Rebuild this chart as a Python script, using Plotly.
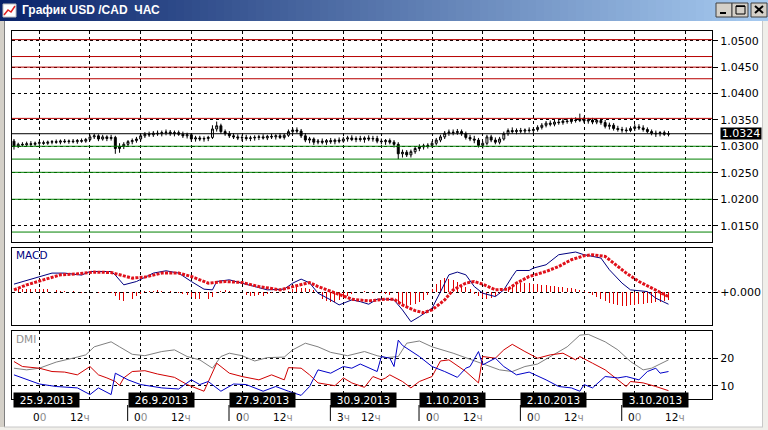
import plotly.graph_objects as go

W, H = 768, 430

# ---------------- data ----------------
# hourly bars, index 0 = 25.9.2013 00h (weekend gap removed)
bar_index = list(range(-6, 150))

# prices in pips above 1.0000
open_pips = [
    310, 300, 304, 303, 305, 304, 306, 307, 306, 308, 309, 308,
    310, 309, 310, 309, 311, 310, 313, 318, 320, 314, 318, 315,
    317, 296, 300, 304, 309, 311, 314, 320, 323, 322, 325, 324,
    326, 327, 324, 326, 323, 320, 322, 314, 316, 314, 315, 317,
    333, 339, 328, 324, 320, 318, 316, 317, 315, 316, 317, 318,
    316, 319, 318, 320, 317, 321, 328, 331, 329, 320, 312, 314,
    308, 310, 308, 311, 309, 312, 310, 314, 316, 313, 315, 313,
    316, 314, 315, 310, 309, 311, 308, 304, 286, 289, 284, 290,
    296, 299, 301, 302, 306, 312, 318, 325, 327, 326, 328, 324,
    317, 314, 312, 302, 306, 318, 312, 308, 314, 324, 330, 328,
    330, 329, 331, 330, 332, 336, 340, 344, 342, 346, 345, 348,
    347, 350, 349, 352, 348, 350, 346, 349, 345, 338, 340, 334,
    332, 331, 330, 334, 337, 335, 332, 328, 325, 324, 326, 323,
]
high_pips = [
    314, 307, 308, 309, 310, 309, 311, 311, 311, 312, 313, 313,
    314, 313, 314, 314, 315, 316, 322, 324, 323, 322, 321, 322,
    320, 306, 308, 312, 315, 318, 324, 327, 328, 329, 330, 330,
    332, 331, 330, 330, 328, 326, 325, 320, 320, 319, 320, 340,
    347, 343, 332, 329, 325, 323, 321, 322, 320, 321, 322, 323,
    322, 324, 323, 325, 324, 332, 335, 336, 333, 325, 318, 317,
    314, 315, 314, 316, 315, 317, 318, 320, 321, 319, 320, 319,
    321, 320, 320, 315, 314, 315, 312, 308, 294, 293, 294, 300,
    304, 305, 306, 310, 316, 322, 329, 332, 332, 333, 332, 328,
    322, 320, 316, 310, 322, 322, 317, 318, 328, 334, 336, 334,
    335, 334, 336, 336, 340, 344, 348, 349, 350, 351, 352, 353,
    354, 355, 362, 356, 354, 354, 353, 353, 350, 345, 344, 339,
    337, 336, 338, 342, 342, 340, 336, 332, 330, 329, 330, 329,
]
low_pips = [
    294, 297, 300, 299, 300, 301, 302, 303, 303, 304, 305, 304,
    306, 305, 306, 305, 307, 307, 310, 314, 310, 311, 310, 311,
    286, 288, 295, 300, 304, 307, 310, 316, 318, 318, 320, 319,
    321, 320, 319, 320, 316, 315, 309, 309, 310, 309, 310, 314,
    328, 324, 320, 316, 314, 312, 310, 311, 310, 311, 312, 313,
    312, 314, 313, 314, 313, 318, 323, 325, 316, 308, 306, 303,
    304, 304, 303, 305, 304, 306, 307, 309, 310, 308, 309, 307,
    310, 309, 306, 304, 303, 304, 298, 276, 279, 280, 279, 286,
    291, 294, 296, 298, 302, 308, 314, 320, 321, 322, 320, 313,
    310, 306, 298, 296, 302, 308, 304, 304, 311, 320, 324, 323,
    325, 324, 326, 325, 328, 332, 336, 338, 338, 341, 341, 343,
    343, 345, 346, 344, 343, 342, 342, 341, 334, 332, 330, 328,
    326, 326, 327, 329, 331, 328, 325, 321, 318, 319, 320, 319,
]
close_pips = [
    300, 304, 303, 305, 304, 306, 307, 306, 308, 309, 308, 310,
    309, 310, 309, 311, 310, 313, 318, 320, 314, 318, 315, 317,
    296, 300, 304, 309, 311, 314, 320, 323, 322, 325, 324, 326,
    327, 324, 326, 323, 320, 322, 314, 316, 314, 315, 317, 333,
    339, 328, 324, 320, 318, 316, 317, 315, 316, 317, 318, 316,
    319, 318, 320, 317, 321, 328, 331, 329, 320, 312, 314, 308,
    310, 308, 311, 309, 312, 310, 314, 316, 313, 315, 313, 316,
    314, 315, 310, 309, 311, 308, 304, 286, 289, 284, 290, 296,
    299, 301, 302, 306, 312, 318, 325, 327, 326, 328, 324, 317,
    314, 312, 302, 306, 318, 312, 308, 314, 324, 330, 328, 330,
    329, 331, 330, 332, 336, 340, 344, 342, 346, 345, 348, 347,
    350, 349, 352, 348, 350, 346, 349, 345, 338, 340, 334, 332,
    331, 330, 334, 337, 335, 332, 328, 325, 324, 326, 323, 324,
]

resistance_levels = [1.0502, 1.0470, 1.0450, 1.0428, 1.0353]
support_levels = [1.03003, 1.0276, 1.0251, 1.0200, 1.0138]
last_price = 1.0324
price_ticks = [1.0150, 1.0200, 1.0250, 1.0300, 1.0350, 1.0400, 1.0450, 1.0500]

# MACD (units of 0.00001)
macd_x = [-6, -3, -1, 3, 6, 10, 12, 17, 18, 20, 23, 25, 27, 30, 33, 36, 39, 41, 42, 45,
          48, 51, 54, 58, 60, 62, 64, 66, 69, 71, 74, 76, 78, 80, 82, 84, 86, 88, 90, 93,
          95, 97, 99, 101, 103, 105, 108, 110, 112, 113, 116, 117, 120, 123, 127, 129,
          133, 135, 138, 140, 144, 146, 149]
macd_v = [8, 11.6, 14, 19, 19, 17, 20.6, 20.6, 17, 7.3, 10.6, 14.6, 19, 21.3, 19, 10.6, 3, 2.3, 10.6, 12.3,
          9.3, 5.6, 2.3, 3, 9, 13, 9.3, -1, -7.7, -12.7, -7.7, -9.4, -12, -7, -7, -7.7, -17.7, -29.4, -24.4, -16,
          0.3, 17.3, 20, 17.3, 5.6, -1, -4.4, 2.3, 15.6, 21.6, 21.6, 24, 27.3, 37.3, 40, 37.3,
          34, 22.3, 9, 2.3, 0.6, -6, -12]
signal_x = [-6, -3, 1, 5, 9, 13, 17, 19, 22, 25, 29, 33, 36, 40, 44, 48, 52, 57, 60, 64,
            66, 70, 74, 78, 82, 84, 86, 89, 91, 93, 96, 98, 101, 103, 105, 108, 111, 113,
            116, 120, 123, 126, 129, 131, 134, 136, 139, 142, 145, 149]
signal_v = [2.3, 7.3, 12.3, 17.3, 18.3, 20, 19.6, 17.3, 14, 15, 19, 19, 15.6, 9, 10.6, 9.6, 5.6, 2.3, 5.6, 9.6,
            5.6, -1, -7, -8.7, -7, -7, -12.7, -18.4, -20.4, -17.7, -7.7, 2.3, 9, 10.6, 8, 2.3, 3, 9,
            15.6, 20.6, 25.6, 32.3, 36.3, 37.3, 35.6, 29, 19, 10.6, 4, -4.4]
osma_v = [
    3, 3, 3, 3, 3, 3, 3, 3, 3, 3, 2,
    1, 1, 0, 1, 0, -1, 0, 1, 0, -1, 0, 0, -1,
    -4, -8, -9, -8, -7, -4, -2,
    1, 1, 1, 2, 1, 0, 1, 0, -1, -2, -3,
    -5, -7, -7, -6, -7, -5, -1,
    1, 2, 1, 0, 0, -1,
    -3, -4, -4, -3, -4, -2,
    -1, 0, -1, 0, 1,
    3, 5, 4, 4, 3, 2,
    -4, -7, -9, -10, -10, -8, -6, -4,
    -2, -1, 0, 1, 0, -1, 0,
    -1, -2, -3,
    -6, -10, -13, -14, -13, -12, -10, -8,
    -3, 3, 8, 12, 14, 13, 12, 10, 7, 5,
    3, -2, -4,
    -6, -7, -6, -4,
    -2, 0, 3,
    6, 8, 9, 9, 9, 8, 8, 7, 7, 6, 6, 5, 5, 4, 4, 3, 2,
    1, -1, -3,
    -5, -7, -9, -11, -12, -13, -14, -14, -13, -13, -12, -12, -11, -11, -10, -10, -9, -8,
]

# DMI
adx_x = [-6, -3, 0, 4, 9, 11, 13, 17, 19, 22, 25, 29, 32, 35, 38, 41, 43, 45, 48, 51, 54, 58,
         60, 63, 66, 69, 73, 77, 80, 82, 85, 87, 90, 93, 98, 101, 105, 109, 112, 115, 118,
         121, 125, 128, 130, 134, 137, 140, 143, 145, 149]
adx_v = [16.4, 15.8, 16.4, 18.6, 20.4, 21.2, 24.1, 25.9, 24.1, 21.4, 20.9, 22.4, 23, 20.6, 19.4, 16.4,
         20.6, 21.8, 20.9, 19, 20.2, 20.4, 23, 25.4, 24.1, 22.1, 20.9, 22.4, 20.9, 20.2, 20.6, 25.4,
         26.2, 24.1, 21.8, 20.2, 18.2, 15.8, 15.2, 17, 17.9, 20.6, 24.1, 28.3, 28.6, 25.9, 23, 18.8,
         15.8, 16.4, 19.4]
pdi_x = [-6, -4, 0, 3, 6, 9, 12, 14, 16, 18, 19, 20, 22, 25, 28, 32, 35, 39, 42, 45, 48, 52,
         55, 58, 59, 62, 64, 66, 70, 72, 74, 77, 79, 81, 82, 83, 86, 88, 90, 93, 95, 97, 101,
         104, 105, 108, 110, 112, 115, 118, 121, 124, 127, 128, 131, 134, 137, 139, 140, 143,
         146, 149]
pdi_v = [18.8, 17, 16.4, 15.2, 15, 14, 17, 14, 12.9, 11.6, 10.2, 12.9, 15.2, 15.5, 14.3, 13.1, 10.5,
         8.1, 18.2, 14.6, 13.4, 12.2, 14, 12.2, 16.6, 16.4, 14, 11.1, 10.1, 12.9, 11.1, 9.5, 13.4,
         12.2, 12.9, 14, 11.6, 9.3, 11.6, 13.4, 19, 19.4, 15.2, 11.1, 20.6, 20, 23, 25, 22.4, 20,
         21.2, 21.8, 19.4, 20.6, 18.2, 15.8, 12.2, 9.8, 11.6, 11.1, 9.8, 8.3]
mdi_x = [-6, -4, 0, 4, 9, 12, 14, 17, 18, 21, 24, 29, 33, 36, 38, 40, 43, 46, 49, 53, 56, 59,
         62, 64, 66, 69, 72, 74, 76, 80, 81, 83, 84, 85, 86, 90, 93, 96, 99, 101, 102, 104,
         105, 108, 110, 113, 116, 120, 123, 126, 128, 129, 131, 134, 137, 139, 142, 144, 146,
         147, 149]
mdi_v = [14, 12.9, 10.7, 9.8, 9.3, 6.9, 9.3, 6.9, 14.6, 12.2, 10.5, 9.3, 8.9, 12.2, 10.5, 11.6, 8.1,
         10.7, 10.5, 8.1, 9.8, 8.1, 6.6, 9.8, 15.8, 14.6, 17, 16.4, 17.9, 15.2, 20.6, 20, 17, 26.5,
         24.6, 20.6, 17, 15.2, 13.1, 16.4, 17, 22.4, 17.6, 20, 17, 14, 15, 12.2, 9.8, 9.3, 8.1,
         10.5, 9.3, 13.4, 12.9, 13.4, 12.2, 15.2, 16.4, 14.6, 15.2]

# time axis labels
grid_hours = [0, 12, 24, 36, 48, 60, 72, 81, 93, 105, 117, 129, 141, 153]
hour_labels = ["00", "12ч", "00", "12ч", "00", "12ч", "3ч", "12ч", "00", "12ч", "00", "12ч", "00", "12ч"]
day_starts = [0, 24, 48, 72, 93, 117, 141]
date_labels = ["25.9.2013", "26.9.2013", "27.9.2013", "30.9.2013", "1.10.2013", "2.10.2013", "3.10.2013"]

# ---------------- figure ----------------
X_RANGE = [-6.47, 159.3]
XDOM = [12 / W, 712 / W]


def py(p):
    return 1 - p / H


def px(p):
    return p / W


def to_price(v):
    return [1 + p / 10000 for p in v]


FONT = "DejaVu Sans"
fig = go.Figure()

# support / resistance / last price lines
for lv in resistance_levels:
    fig.add_trace(go.Scatter(x=X_RANGE, y=[lv, lv], mode="lines", line=dict(color="#B80000", width=1),
                             xaxis="x", yaxis="y", showlegend=False, hoverinfo="skip"))
for lv in support_levels:
    fig.add_trace(go.Scatter(x=X_RANGE, y=[lv, lv], mode="lines", line=dict(color="#008000", width=1),
                             xaxis="x", yaxis="y", showlegend=False, hoverinfo="skip"))
fig.add_trace(go.Scatter(x=X_RANGE, y=[last_price, last_price], mode="lines",
                         line=dict(color="black", width=1),
                         xaxis="x", yaxis="y", showlegend=False, hoverinfo="skip"))

fig.add_trace(go.Candlestick(
    x=bar_index, open=to_price(open_pips), high=to_price(high_pips),
    low=to_price(low_pips), close=to_price(close_pips),
    increasing=dict(line=dict(color="black", width=1), fillcolor="white"),
    decreasing=dict(line=dict(color="black", width=1), fillcolor="black"),
    whiskerwidth=0, xaxis="x", yaxis="y", hoverinfo="skip", showlegend=False))

fig.add_trace(go.Bar(x=bar_index, y=osma_v, width=0.22, marker=dict(color="#E00000", line=dict(width=0)),
                     xaxis="x2", yaxis="y2", showlegend=False, hoverinfo="skip"))
fig.add_trace(go.Scatter(x=macd_x, y=macd_v, mode="lines", line=dict(color="#000080", width=1),
                         xaxis="x2", yaxis="y2", showlegend=False, hoverinfo="skip"))
fig.add_trace(go.Scatter(x=signal_x, y=signal_v, mode="lines",
                         line=dict(color="#E0101A", width=3, dash="3px,1.3px"),
                         xaxis="x2", yaxis="y2", showlegend=False, hoverinfo="skip"))

fig.add_trace(go.Scatter(x=adx_x, y=adx_v, mode="lines", line=dict(color="#808080", width=1),
                         xaxis="x3", yaxis="y3", showlegend=False, hoverinfo="skip"))
fig.add_trace(go.Scatter(x=pdi_x, y=pdi_v, mode="lines", line=dict(color="#D00000", width=1),
                         xaxis="x3", yaxis="y3", showlegend=False, hoverinfo="skip"))
fig.add_trace(go.Scatter(x=mdi_x, y=mdi_v, mode="lines", line=dict(color="#0000C8", width=1),
                         xaxis="x3", yaxis="y3", showlegend=False, hoverinfo="skip"))

GRID = dict(showgrid=True, gridcolor="black", griddash="3px,3px", gridwidth=1)
xcommon = dict(range=X_RANGE, domain=XDOM, tickmode="array", tickvals=grid_hours,
               showticklabels=False, ticks="", showline=True, mirror=True, linecolor="black",
               linewidth=1, zeroline=False, fixedrange=True, automargin=False, **GRID)
ycommon = dict(side="right", showline=True, mirror=True, linecolor="black", linewidth=1,
               ticks="outside", ticklen=5, tickcolor="black", tickwidth=1,
               tickfont=dict(family=FONT, size=11, color="black"), zeroline=False,
               fixedrange=True, automargin=False, tickmode="array", **GRID)

fig.update_layout(
    template="none", width=W, height=H, autosize=False,
    margin=dict(l=0, r=0, t=0, b=0, pad=0),
    paper_bgcolor="white", plot_bgcolor="white", showlegend=False,
    font=dict(family=FONT, size=11, color="black"),
    xaxis=dict(anchor="y", rangeslider=dict(visible=False), **xcommon),
    xaxis2=dict(anchor="y2", matches="x", **xcommon),
    xaxis3=dict(anchor="y3", matches="x", **xcommon),
    yaxis=dict(anchor="x", domain=[py(242), py(31)], range=[1.01192, 1.05183],
               tickvals=price_ticks, ticktext=[f"{v:.4f}" for v in price_ticks], **ycommon),
    yaxis2=dict(anchor="x2", domain=[py(325), py(248)], range=[-32.7, 44],
                tickvals=[0], ticktext=["+0.000"], **ycommon),
    yaxis3=dict(anchor="x3", domain=[py(399), py(331)], range=[5.3, 29.8],
                tickvals=[10, 20], ticktext=["10", "20"], **ycommon),
    bargap=0, boxgap=0.35,
)

shapes = []
# title bar gradient
c0, c1 = (10, 36, 106), (166, 202, 240)
n = 96
for i in range(n):
    t = i / (n - 1)
    col = "rgb(%d,%d,%d)" % tuple(round(a + (b - a) * t) for a, b in zip(c0, c1))
    shapes.append(dict(type="rect", xref="paper", yref="paper", x0=px(i * W / n), x1=px((i + 1) * W / n + 0.5),
                       y0=py(21), y1=1, fillcolor=col, line=dict(width=0), layer="above"))
# window frame
shapes += [
    dict(type="rect", xref="paper", yref="paper", x0=0, x1=px(4), y0=0, y1=py(21),
         fillcolor="#D4D0C8", line=dict(width=0), layer="above"),
    dict(type="line", xref="paper", yref="paper", x0=px(4.5), x1=px(4.5), y0=py(427), y1=py(21),
         line=dict(color="#808080", width=1), layer="above"),
    dict(type="rect", xref="paper", yref="paper", x0=px(763), x1=1, y0=0, y1=py(21),
         fillcolor="#F0EFEA", line=dict(width=0), layer="above"),
    dict(type="line", xref="paper", yref="paper", x0=px(762.5), x1=px(762.5), y0=py(427), y1=py(21),
         line=dict(color="#C8C8C8", width=1), layer="above"),
    dict(type="rect", xref="paper", yref="paper", x0=0, x1=1, y0=0, y1=py(427),
         fillcolor="#F0EFEA", line=dict(width=0), layer="above"),
    dict(type="line", xref="paper", yref="paper", x0=px(4), x1=px(763), y0=py(427), y1=py(427),
         line=dict(color="#C8C8C8", width=1), layer="above"),
]
# title icon
shapes += [
    dict(type="rect", xref="paper", yref="paper", x0=px(3), x1=px(16), y0=py(17), y1=py(4),
         fillcolor="white", line=dict(color="#C0C0C0", width=1), layer="above"),
    dict(type="path", xref="paper", yref="paper",
         path="M %f %f L %f %f L %f %f L %f %f" % (px(4), py(15), px(8), py(10), px(11), py(12), px(15), py(6)),
         line=dict(color="#E02020", width=1.5), layer="above"),
]
# title buttons
for bx0, bx1 in [(716, 732), (732, 748), (751, 767)]:
    shapes.append(dict(type="rect", xref="paper", yref="paper", x0=px(bx0), x1=px(bx1), y0=py(17), y1=py(3),
                       fillcolor="#D4D0C8", line=dict(color="#404040", width=1), layer="above"))
shapes += [
    dict(type="rect", xref="paper", yref="paper", x0=px(720), x1=px(726), y0=py(14), y1=py(12),
         fillcolor="black", line=dict(width=0), layer="above"),
    dict(type="rect", xref="paper", yref="paper", x0=px(736), x1=px(745), y0=py(14), y1=py(6),
         fillcolor="rgba(0,0,0,0)", line=dict(color="black", width=1), layer="above"),
    dict(type="rect", xref="paper", yref="paper", x0=px(736), x1=px(745), y0=py(7), y1=py(5.5),
         fillcolor="black", line=dict(width=0), layer="above"),
    dict(type="line", xref="paper", yref="paper", x0=px(755), x1=px(763), y0=py(6), y1=py(13),
         line=dict(color="black", width=2), layer="above"),
    dict(type="line", xref="paper", yref="paper", x0=px(763), x1=px(755), y0=py(6), y1=py(13),
         line=dict(color="black", width=2), layer="above"),
]
# day separators under date boxes
for ds in day_starts[1:]:
    shapes.append(dict(type="line", xref="x", xsizemode="pixel", xanchor=ds, x0=-13, x1=-13,
                       yref="paper", y0=py(421), y1=py(405), line=dict(color="black", width=1),
                       layer="above"))
fig.update_layout(shapes=shapes)

ann = []
ann.append(dict(xref="paper", yref="paper", x=px(20), y=py(10.5), xanchor="left", yanchor="middle",
                text="<b>График USD /CAD \u00a0ЧАС</b>", showarrow=False,
                font=dict(family="Liberation Sans", size=12, color="white")))
ann.append(dict(xref="paper", yref="paper", x=px(14), y=py(255), xanchor="left", yanchor="middle",
                text="MACD", showarrow=False, font=dict(family=FONT, size=10.5, color="#000080")))
ann.append(dict(xref="paper", yref="paper", x=px(14), y=py(339), xanchor="left", yanchor="middle",
                text="DMI", showarrow=False, font=dict(family=FONT, size=10.5, color="#909090")))
# current price box
ann.append(dict(xref="paper", yref="y", x=px(720), y=last_price, xanchor="left", yanchor="middle",
                text=f"{last_price:.4f}", showarrow=False, bgcolor="black", borderpad=0,
                width=40, height=11, font=dict(family=FONT, size=11, color="white")))
# date boxes
for i, (ds, lab) in enumerate(zip(day_starts, date_labels)):
    if i == 0:
        xpos, shift = X_RANGE[0], 0.5
    else:
        xpos, shift = ds, -13
    ann.append(dict(xref="x", yref="paper", x=xpos, xshift=shift, y=py(399.7), xanchor="left",
                    yanchor="middle", text=lab, showarrow=False, bgcolor="black", borderpad=0,
                    width=65, height=14, font=dict(family=FONT, size=10.5, color="white")))
# hour labels
for pos, lab in zip(grid_hours, hour_labels):
    txt = lab[:-1] + "<span style='color:#8c8c8c'>" + lab[-1] + "</span>"
    if lab.startswith("12"):
        a = dict(xanchor="right", xshift=2)
    else:
        a = dict(xanchor="center", xshift=0)
    ann.append(dict(xref="x", yref="paper", x=pos, y=py(417), yanchor="middle", text=txt,
                    showarrow=False, font=dict(family=FONT, size=10.5, color="black"), **a))
fig.update_layout(annotations=ann)

fig.write_html("out.html", config={"displayModeBar": False, "staticPlot": True},
               post_script="document.body.style.margin='0';")
